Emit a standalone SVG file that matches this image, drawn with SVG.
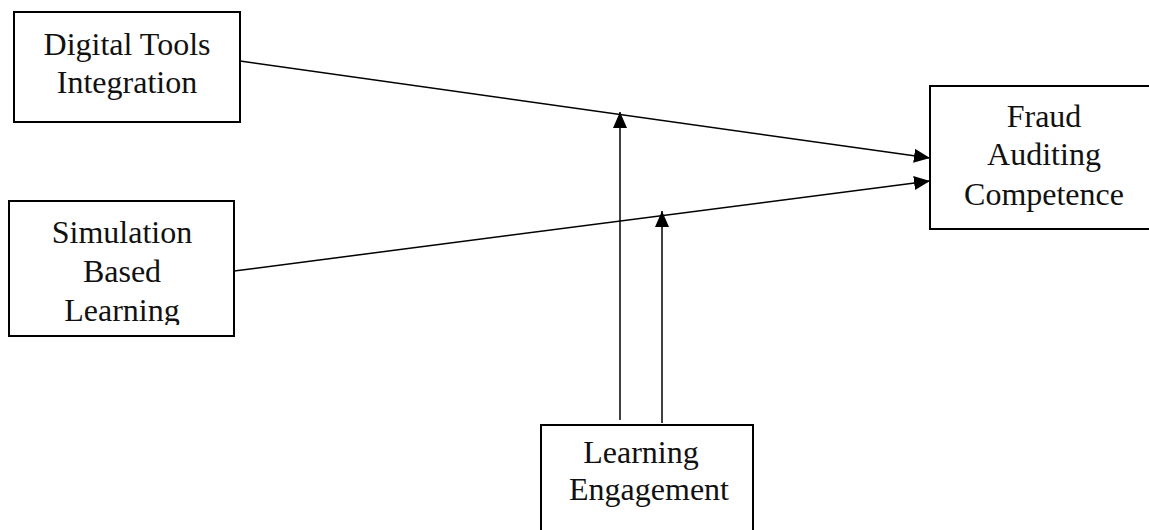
<svg xmlns="http://www.w3.org/2000/svg" width="1149" height="530" viewBox="0 0 1149 530">
<style>
.box{fill:#fff;stroke:#000;stroke-width:2}
.t{font-family:"Liberation Serif","Times New Roman",serif;font-size:32px;fill:#111;text-anchor:middle}
.c{stroke:#000;stroke-width:1.5;fill:none;marker-end:url(#ah)}
</style>
<defs>
<marker id="ah" markerUnits="userSpaceOnUse" markerWidth="17" markerHeight="15" refX="16" refY="7" orient="auto">
<path d="M0,0 L16,7 L0,14 z" fill="#000"/>
</marker>
<clipPath id="simclip"><rect x="9" y="201" width="225" height="124"/></clipPath>
</defs>
<rect width="1149" height="530" fill="#fff"/>
<g id="connectors">
<line class="c" x1="240" y1="61" x2="930" y2="158"/>
<line class="c" x1="234" y1="271" x2="930" y2="181"/>
<line class="c" x1="620" y1="420" x2="620" y2="112"/>
<line class="c" x1="662" y1="423" x2="662" y2="211"/>
</g>
<g id="digital-tools">
<rect class="box" x="14" y="12" width="226" height="110"/>
<text class="t" x="127" y="55">Digital Tools</text>
<text class="t" x="127" y="93">Integration</text>
</g>
<g id="simulation">
<rect class="box" x="9" y="201" width="225" height="135"/>
<g clip-path="url(#simclip)">
<text class="t" x="122" y="243">Simulation</text>
<text class="t" x="122" y="282">Based</text>
<text class="t" x="122" y="321">Learning</text>
</g>
</g>
<g id="fraud">
<rect class="box" x="930" y="86" width="230" height="143"/>
<text class="t" x="1044" y="127">Fraud</text>
<text class="t" x="1044" y="165">Auditing</text>
<text class="t" x="1044" y="205">Competence</text>
</g>
<g id="engagement">
<rect class="box" x="541" y="425" width="212" height="120"/>
<text class="t" x="641" y="463">Learning</text>
<text class="t" x="649" y="500">Engagement</text>
</g>
</svg>
